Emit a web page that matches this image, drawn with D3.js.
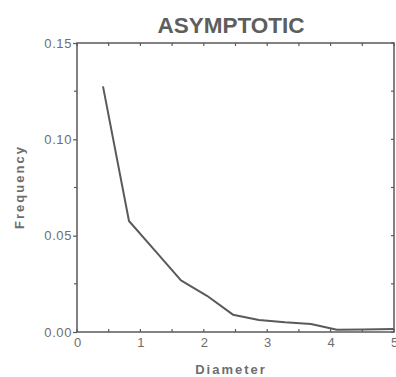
<!DOCTYPE html>
<html>
<head>
<meta charset="utf-8">
<script src="https://cdn.jsdelivr.net/npm/d3@7"></script>
<style>
  body { margin: 0; background: #fff; }
  text { font-family: "Liberation Sans", Arial, sans-serif; }
</style>
</head>
<body>
<div id="chart"></div>
<script>
var width = 396,
    height = 377;

var margin = {top: 43, right: 2, bottom: 45, left: 77};

// values
var diameters = [0.41, 0.82, 1.23, 1.64, 2.05, 2.46, 2.87, 3.28, 3.69, 4.10, 4.51, 5.0];
var frequencies = [0.1275, 0.0576, 0.0422, 0.0268, 0.0188, 0.0090, 0.0062, 0.0050, 0.0041, 0.0012, 0.0013, 0.0016];
var xTicks = [0, 1, 2, 3, 4, 5];
var yTicks = [0, 0.05, 0.10, 0.15];
var xMinor = [0.5, 1.5, 2.5, 3.5, 4.5];
var yMinor = [0.025, 0.075, 0.125];

var ink = "#5a5a5a",
    textInk = "#6e6e6e";

var svg = d3.select("#chart").append("svg")
    .attr("width", width)
    .attr("height", height);

var x = d3.scaleLinear().domain([0, 5]).range([margin.left, width - margin.right]);
var y = d3.scaleLinear().domain([0, 0.15]).range([height - margin.bottom, margin.top]);

// frame
svg.append("rect")
    .attr("x", x(0)).attr("y", y(0.15))
    .attr("width", x(5) - x(0)).attr("height", y(0) - y(0.15))
    .attr("fill", "none").attr("stroke", ink).attr("stroke-width", 1.5);

// left axis: labels and outward ticks
var yAxis = d3.axisLeft(y).tickValues(yTicks).tickSize(4).tickFormat(d3.format(".2f"));
var gy = svg.append("g").attr("transform", "translate(" + x(0) + ",0)").call(yAxis);
gy.select(".domain").remove();
gy.selectAll("line").attr("stroke", ink).attr("stroke-width", 1.2);
gy.selectAll("text").attr("fill", textInk).style("font-size", "13px")
    .style("letter-spacing", "0.6px").attr("x", -5);

// bottom axis labels
var xAxis = d3.axisBottom(x).tickValues(xTicks).tickSize(0).tickFormat(d3.format("d"));
var gx = svg.append("g").attr("transform", "translate(0," + y(0) + ")").call(xAxis);
gx.select(".domain").remove();
gx.selectAll("text").attr("fill", textInk).style("font-size", "13px").attr("dy", "0.95em");

// small inward ticks on all sides
var allX = xTicks.concat(xMinor), allY = yTicks.concat(yMinor);
svg.append("g").selectAll("line.tb").data(allX).join("line")
    .attr("x1", d => x(d)).attr("x2", d => x(d))
    .attr("y1", y(0.15)).attr("y2", y(0.15) + 3)
    .attr("stroke", ink).attr("stroke-width", 1.2);
svg.append("g").selectAll("line.bt").data(allX).join("line")
    .attr("x1", d => x(d)).attr("x2", d => x(d))
    .attr("y1", y(0)).attr("y2", y(0) - 3)
    .attr("stroke", ink).attr("stroke-width", 1.2);
svg.append("g").selectAll("line.lt").data(yMinor).join("line")
    .attr("x1", x(0) - 3).attr("x2", x(0))
    .attr("y1", d => y(d)).attr("y2", d => y(d))
    .attr("stroke", ink).attr("stroke-width", 1.2);
svg.append("g").selectAll("line.rt").data(allY).join("line")
    .attr("x1", x(5)).attr("x2", x(5) - 3)
    .attr("y1", d => y(d)).attr("y2", d => y(d))
    .attr("stroke", ink).attr("stroke-width", 1.2);

// the curve
var line = d3.line()
    .x((d, i) => x(diameters[i]))
    .y(d => y(d));

svg.append("path")
    .datum(frequencies)
    .attr("d", line)
    .attr("fill", "none")
    .attr("stroke", ink)
    .attr("stroke-width", 2)
    .attr("stroke-linejoin", "round");

// titles
svg.append("text")
    .attr("x", 231).attr("y", 33)
    .attr("text-anchor", "middle")
    .attr("fill", "#5e5e5e")
    .style("font-size", "22.5px").style("font-weight", "bold")
    .text("ASYMPTOTIC");

svg.append("text")
    .attr("x", 231).attr("y", 374)
    .attr("text-anchor", "middle")
    .attr("fill", textInk)
    .style("font-size", "13px").style("font-weight", "bold").style("letter-spacing", "2px")
    .text("Diameter");

svg.append("text")
    .attr("transform", "translate(24,187) rotate(-90)")
    .attr("text-anchor", "middle")
    .attr("fill", textInk)
    .style("font-size", "13px").style("font-weight", "bold").style("letter-spacing", "2px")
    .text("Frequency");
</script>
</body>
</html>
